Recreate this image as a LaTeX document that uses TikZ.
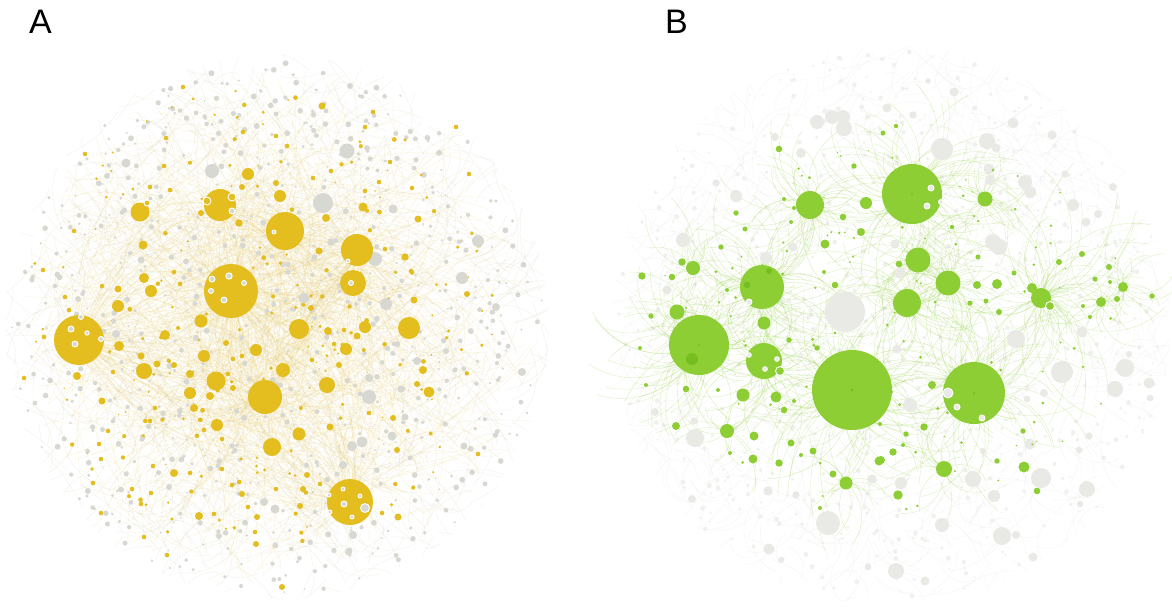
\documentclass[tikz,border=0pt]{standalone}
\usepackage{fontspec}
\newfontfamily\labfont{Liberation Sans}
\definecolor{ya}{RGB}{228,189,30}
\definecolor{gA}{RGB}{216,216,210}
\definecolor{gAl}{RGB}{228,228,223}
\definecolor{gr}{RGB}{141,206,52}
\definecolor{grd}{RGB}{118,190,32}
\definecolor{gB}{RGB}{233,233,230}
\definecolor{gBl}{RGB}{240,240,237}
\definecolor{eA}{RGB}{232,202,100}
\definecolor{eAg}{RGB}{225,222,205}
\definecolor{eB}{RGB}{160,215,85}
\definecolor{eBg}{RGB}{222,222,218}
\tikzset{
  edgeA/.style={eA, line width=0.28pt, opacity=0.26},
  webA/.style={eAg, line width=0.3pt, opacity=0.5},
  edgeB/.style={eB, line width=0.35pt, opacity=0.4},
  webB/.style={eBg, line width=0.3pt, opacity=0.35},
  ringspot/.style={draw=white, line width=0.9pt},
  panellabel/.style={anchor=base west, inner sep=0pt, font=\labfont\fontsize{34}{34}\selectfont}
}
\newcommand\randdisk[3]{%
  \pgfmathsetmacro\myrad{#3*sqrt(rnd)}%
  \pgfmathsetmacro\myang{360*rnd}%
  \pgfmathsetmacro\rpx{#1+\myrad*cos(\myang)}%
  \pgfmathsetmacro\rpy{#2+\myrad*sin(\myang)}}
\begin{document}
\begin{tikzpicture}[x=1pt,y=-1pt]
\pgfmathsetseed{11}
\fill[white] (0,0) rectangle (1172,606);
\path[use as bounding box] (0,0) rectangle (1172,606);

% ================= PANEL A =================
\begin{scope}
\clip (277,327) circle[radius=272];
% background web
\foreach \k in {1,...,800}{
  \randdisk{277}{327}{268}
  \pgfmathsetmacro\qx{\rpx+80*rand}\pgfmathsetmacro\qy{\rpy+80*rand}
  \pgfmathsetmacro\bnd{rand*50}
  \draw[webA] (\rpx,\rpy) to[bend left=\bnd] (\qx,\qy);
}
\end{scope}
% hub edges
\foreach \hx/\hy/\n in {231/291/170, 79/340/130, 285/231/100, 220/205/70, 357/250/80, 265/397/90, 350/502/90, 353/283/50, 409/328/30, 299/329/35, 140/212/25, 216/381/25, 327/385/20, 272/447/20, 144/371/20, 201/321/15, 283/370/15}{
  \foreach \k in {1,...,\n}{
    \randdisk{277}{327}{262}
    \pgfmathsetmacro\bnd{rand*50}
    \draw[edgeA] (\hx,\hy) to[bend left=\bnd] (\rpx,\rpy);
  }
}
% small grey dots
\foreach \k in {1,...,700}{
  \randdisk{277}{327}{266}
  \pgfmathsetmacro\dr{0.9+2.1*rnd}
  \fill[gA] (\rpx,\rpy) circle[radius=\dr];
}
% small yellow dots
\foreach \k in {1,...,200}{
  \randdisk{262}{320}{235}
  \pgfmathsetmacro\dr{0.8+1.6*rnd}
  \fill[ya] (\rpx,\rpy) circle[radius=\dr];
}
% grey medium
\foreach \cx/\cy/\cr in {212/171/7, 126/163/4.5, 141/260/3.5, 347/151/7.5, 323/203/10, 375/259/7, 478/241/6, 462/278/6, 393/209/4.5, 386/304/6, 304/298/5.5, 496/307/4, 350/86/3, 331/242/3.7, 116/334/4, 264/502/4, 275/509/4.5, 169/487/3, 142/439/2.5, 219/536/3, 244/418/3, 196/338/3, 369/397/7, 362/442/5.5, 352/446/5, 343/465/4, 369/378/4, 392/436/4.5, 417/361/4, 401/389/3.7, 405/417/3.5, 522/372/4, 464/446/3.5, 353/535/4, 349/551/3.5, 446/351/3}{
  \fill[gA] (\cx,\cy) circle[radius=\cr];
}
% yellow circles
\foreach \cx/\cy/\cr in {231/291/27, 79/340/25, 285/231/19, 220/205/16, 357/250/16, 265/397/17, 350/502/23, 353/283/13, 409/328/11, 299/329/10, 140/212/9.5, 216/381/9.5, 327/385/8, 272/447/9, 144/371/8, 201/321/6.5, 283/370/7, 204/356/6, 299/434/6.5, 248/174/6, 118/306/6, 151/291/6, 217/425/6, 365/327/6, 346/349/6, 429/392/5.5, 280/196/6, 256/350/6, 190/393/6, 119/346/5, 165/335/5, 144/278/5, 143/245/4.5, 363/207/4.5, 326/218/4, 319/251/3.5, 405/257/3.7, 418/219/3.5, 414/300/3.5, 311/308/3, 328/331/4, 357/336/3.5, 423/370/4, 417/384/3, 330/427/3.5, 398/517/3.5, 210/396/4, 194/408/4, 190/374/4, 157/364/3.5, 141/356/3.5, 77/376/4, 102/401/3.5, 174/473/4, 199/516/4, 242/494/3, 257/517/3, 256/544/3, 276/183/3, 322/106/3.5, 239/223/3.7, 118/289/3.5, 201/213/3, 242/187/3, 233/388/3, 226/343/3, 174/365/3, 307/475/3, 303/489/3, 300/506/3, 397/450/3, 393/418/3, 339/365/3, 282/587/3, 467/294/3}{
  \fill[ya] (\cx,\cy) circle[radius=\cr];
}
\foreach \cx/\cy in {243/132, 180/284, 174/272, 164/166, 183/87, 74/231, 150/187, 69/310, 65/297, 43/270, 85/154, 166/138, 170/190, 373/112, 390/162, 379/182, 365/191, 412/188, 331/171, 365/127, 276/136, 287/146, 313/178, 385/249, 411/271, 469/174, 456/127, 113/372, 24/378, 44/337, 155/408, 150/421, 108/431, 99/444, 101/459, 132/489, 141/504, 93/483, 144/537, 214/514, 248/507, 255/532, 242/356, 233/359, 228/374, 204/430, 222/439, 101/513, 151/493, 153/466, 190/473, 222/469, 232/485, 167/555, 478/454, 369/413, 382/513, 320/484, 276/489, 334/344, 344/330, 312/360}{
  \fill[ya] (\cx,\cy) circle[radius=2.3];
}
% spots on hubs
\foreach \cx/\cy/\cr in {212/279/3, 229/276/3.2, 244/283/2.5, 211/291/2.5, 224/300/3, 232/211/3, 71/329/3, 87/333/2.2, 75/344/3, 101/339/2.5, 81/317/2.5, 274/232/2, 348/261/2, 351/283/2.5, 343/489/2, 360/496/2, 344/504/3, 365/508/4.5, 352/517/2, 330/512/2, 329/495/2}{
  \filldraw[gA, ringspot] (\cx,\cy) circle[radius=\cr];
}
\foreach \cx/\cy/\cr in {232/197/4, 207/201/4, 147/203/3}{
  \filldraw[ya, ringspot] (\cx,\cy) circle[radius=\cr];
}

% ================= PANEL B =================
\begin{scope}
\clip (891,325) circle[radius=280];
% grey background web
\foreach \k in {1,...,900}{
  \randdisk{891}{325}{275}
  \pgfmathsetmacro\qx{\rpx+55*rand}\pgfmathsetmacro\qy{\rpy+55*rand}
  \pgfmathsetmacro\bnd{rand*60}
  \draw[webB] (\rpx,\rpy) to[bend left=\bnd] (\qx,\qy);
}
\end{scope}
% grey tiny dots
\foreach \k in {1,...,750}{
  \randdisk{891}{325}{276}
  \pgfmathsetmacro\dr{0.8+1.7*rnd}
  \fill[gBl] (\rpx,\rpy) circle[radius=\dr];
}
% green petal edges around hubs
\foreach \hx/\hy/\n/\rr in {852/390/150/120, 912/194/110/100, 974/393/110/110, 699/345/110/100, 762/287/90/95, 764/361/70/80, 810/205/60/80, 907/303/60/80, 918/260/45/70, 948/283/45/70, 1041/298/80/125, 985/199/25/60, 693/268/20/60, 677/312/20/60, 727/431/20/60, 944/469/20/60, 846/483/20/60, 1123/287/20/45, 1101/302/20/55}{
  \foreach \k in {1,...,\n}{
    \pgfmathsetmacro\myrad{15+\rr*rnd}
    \pgfmathsetmacro\myang{360*rnd}
    \pgfmathsetmacro\rpx{\hx+\myrad*cos(\myang)}
    \pgfmathsetmacro\rpy{\hy+\myrad*sin(\myang)}
    \pgfmathsetmacro\bnd{(rnd>0.5?1:-1)*(25+30*rnd)}
    \draw[edgeB] (\hx,\hy) to[bend left=\bnd] (\rpx,\rpy);
  }
}
% grey circles B
\foreach \cx/\cy/\cr in {845/312/20, 766/258/6, 683/240/7, 736/196/6, 817/122/7, 832/117/7, 843/117/7, 844/128/8, 801/153/5, 793/247/4.5, 667/290/4.5, 716/183/3.7, 775/137/4, 887/108/4.5, 942/149/11, 987/141/8, 996/148/4.5, 989/169/5.5, 990/180/5, 1025/182/7, 1030/192/6, 993/242/8, 999/247/8, 1013/123/5.5, 1052/135/4.5, 1073/205/6, 1086/222/4.5, 1098/214/4, 1113/187/4, 1065/174/3.7, 954/92/4.5, 913/115/3.7, 928/81/2.7, 900/273/5.5, 895/244/4.5, 828/523/12, 695/438/9, 769/549/5.5, 768/491/4.7, 655/412/4, 692/499/4, 872/479/4.7, 796/495/3.7, 694/421/3.7, 868/567/3.3, 781/560/3, 1016/339/9, 1062/372/11, 1125/368/9, 1115/389/8, 1149/383/5.5, 1150/398/3.3, 1082/332/5.5, 1041/478/10, 1087/489/8, 973/479/8, 994/496/6, 1030/444/5.5, 1002/536/9, 1016/535/4, 942/525/7, 896/571/8, 925/581/4.5, 1033/557/4.5, 910/405/7, 901/483/6, 897/349/4.5, 1089/436/3.7, 1079/450/3.3, 1080/504/3.3, 1027/399/3.3, 1044/393/4, 1129/354/3, 983/451/3.3}{
  \fill[gB] (\cx,\cy) circle[radius=\cr];
}
% tiny green dots
\foreach \k in {1,...,110}{
  \pgfmathsetmacro\myrad{sqrt(rnd)}
  \pgfmathsetmacro\myang{360*rnd}
  \pgfmathsetmacro\rpx{885+255*\myrad*cos(\myang)}
  \pgfmathsetmacro\rpy{325+185*\myrad*sin(\myang)}
  \pgfmathsetmacro\dr{0.6+1.0*rnd}
  \fill[gr] (\rpx,\rpy) circle[radius=\dr];
}
% green circles
\foreach \cx/\cy/\cr in {852/390/40, 912/194/30, 974/393/31, 699/345/30, 762/287/22, 764/361/18, 810/205/14, 907/303/14, 918/260/12.5, 948/283/12.5, 1041/298/10, 985/199/7.5, 693/268/7, 677/312/7.5, 764/323/6.5, 743/395/6.5, 776/397/5.5, 727/431/7, 846/483/6.5, 944/469/8, 1024/467/5.5, 866/203/6, 825/244/4.5, 861/232/4, 1032/288/5, 1123/287/5, 1101/302/5, 997/284/5, 977/285/4, 754/436/4.5, 753/459/4.5, 879/461/4.5, 898/495/4.7, 932/385/4, 924/427/3.7, 676/426/4, 686/389/3.3, 642/276/3.7, 682/262/3.7, 672/277/3.3, 779/463/3.7, 791/443/3.5, 813/451/3.5, 833/474/3.5, 784/410/3.3, 779/149/3.3, 843/217/3.3, 835/285/3.3, 854/166/2.7, 736/213/2.7, 745/229/2.5, 721/247/2.7, 883/133/2.5, 1117/299/3, 1109/267/3, 1082/254/3, 1059/262/3, 1095/279/2.5, 1014/273/2.5, 999/312/3, 986/301/2.5, 970/303/2.5, 978/257/2.5, 952/227/2.2, 896/126/2.2, 899/264/3.3, 893/452/3.7, 906/434/2.7, 881/460/4, 997/461/2.7, 1023/431/2.7, 1037/491/3.3, 789/340/2.7, 817/348/2.7, 651/316/2.7, 1152/296/2.7}{
  \fill[gr] (\cx,\cy) circle[radius=\cr];
}
\foreach \cx/\cy in {824/272, 784/199, 794/208, 791/222, 727/290, 1110/282, 1090/317, 1083/306, 646/385, 640/348, 717/342, 718/390, 730/453, 820/508, 880/424, 794/401, 801/455, 903/445}{
  \fill[gr] (\cx,\cy) circle[radius=2];
}
% darker spots
\foreach \cx/\cy/\cr in {747/285/3.3, 769/271/3, 692/359/6, 852/390/1.5, 912/194/1.2, 974/393/1.2, 699/345/1.2}{
  \fill[grd] (\cx,\cy) circle[radius=\cr];
}
% ring spots on green hubs
\foreach \cx/\cy/\cr in {931/188/3, 927/206/3, 941/202/2.5, 777/359/2.3, 765/369/2.3, 749/355/2.3, 749/302/3, 948/393/5, 957/407/3, 982/418/3}{
  \filldraw[gB, ringspot] (\cx,\cy) circle[radius=\cr];
}
\foreach \cx/\cy/\cr in {780/371/4.5, 1050/306/4.5}{
  \filldraw[gr, ringspot] (\cx,\cy) circle[radius=\cr];
}

% ================= LABELS =================
\node[panellabel] (labA) at (29,33) {A};
\node[panellabel] (labB) at (665,33) {B};
\end{tikzpicture}
\end{document}
